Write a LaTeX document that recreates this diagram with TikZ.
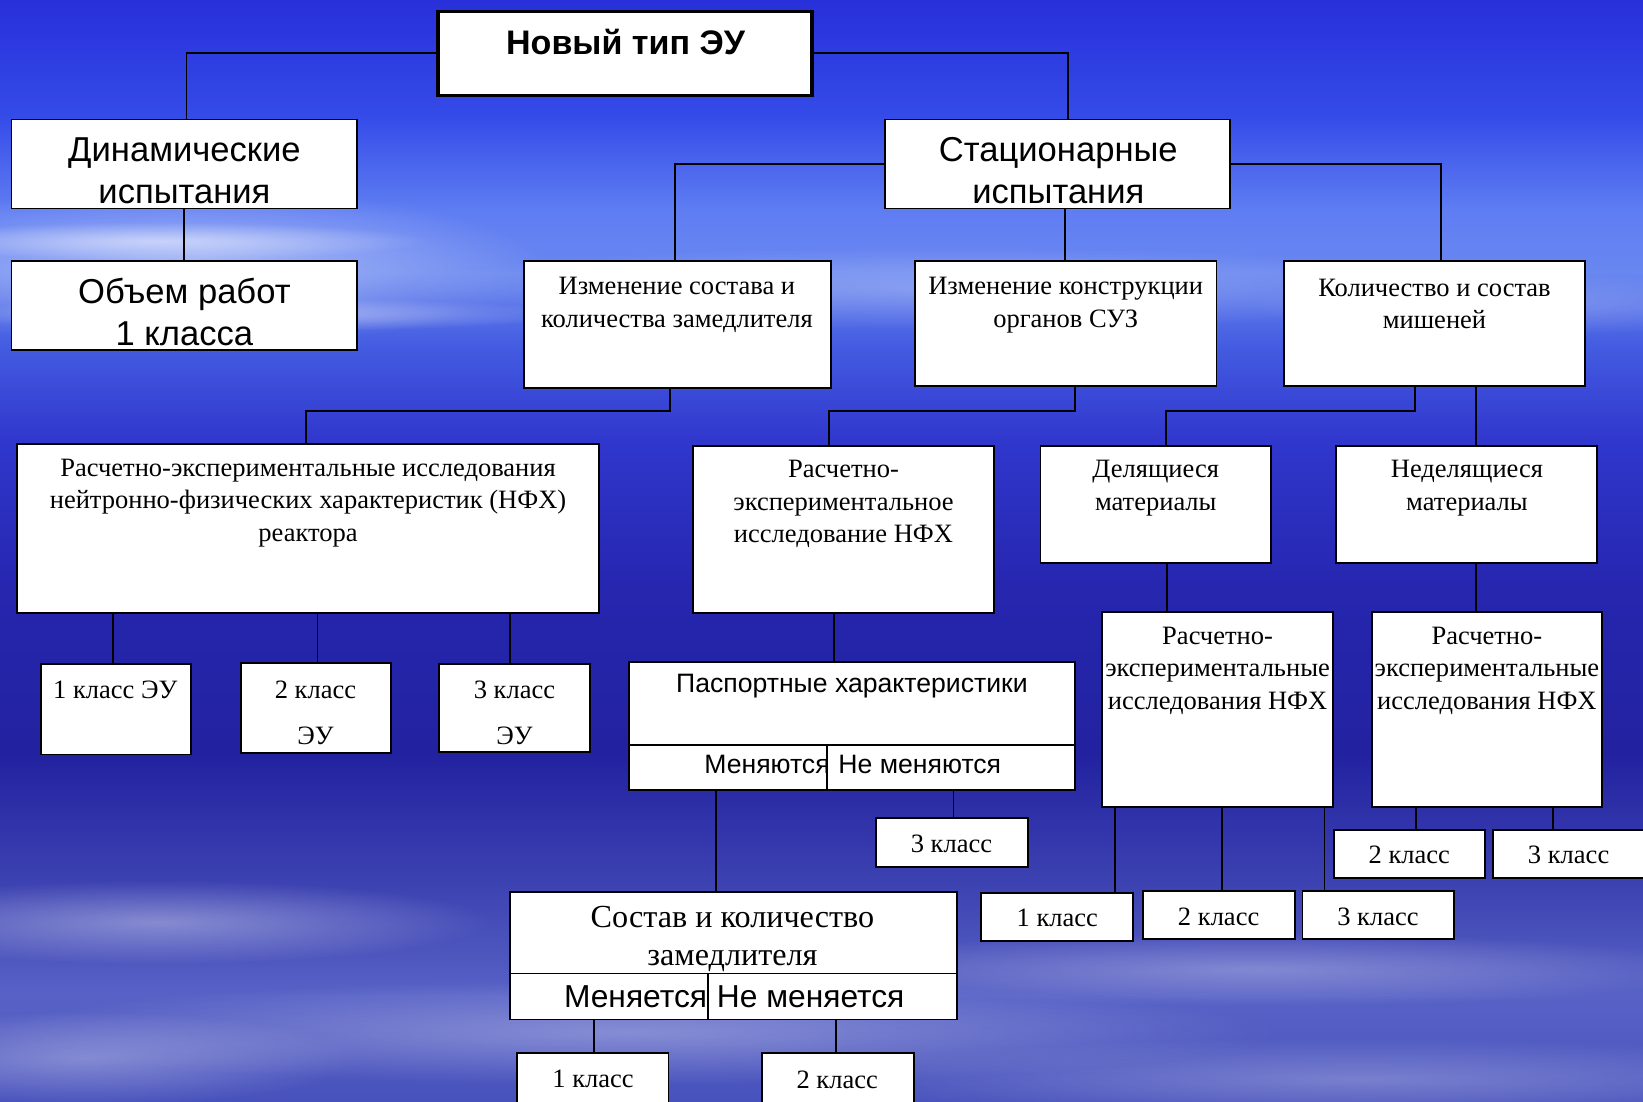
\documentclass[tikz,border=0pt]{standalone}
\usepackage{fontspec}
\setmainfont{Liberation Serif}
\setsansfont{Liberation Sans}
\usetikzlibrary{fadings}
\tikzfading[name=softglow, inner color=transparent!0, outer color=transparent!100]
\definecolor{b0}{RGB}{40,48,218}
\definecolor{b1}{RGB}{52,75,232}
\definecolor{b2}{RGB}{95,125,242}
\definecolor{b3}{RGB}{105,135,240}
\definecolor{b4}{RGB}{68,92,225}
\definecolor{b5}{RGB}{48,55,205}
\definecolor{b6}{RGB}{38,38,175}
\definecolor{b7}{RGB}{34,34,160}
\definecolor{b8}{RGB}{62,68,178}
\definecolor{b9}{RGB}{88,98,198}
\definecolor{b10}{RGB}{72,82,188}
\tikzset{
  box/.style={draw=black, fill=white, line width=1.8pt, inner sep=0pt, outer sep=0pt, anchor=north west},
  conn/.style={draw=black, line width=1.8pt},
  ser/.style={inner sep=0pt, align=center, font=\fontsize{25.3}{31}\selectfont},
  sertall/.style={inner sep=0pt, align=center, font=\fontsize{25.3}{44}\selectfont},
  serL/.style={inner sep=0pt, align=center, font=\fontsize{30.7}{36}\selectfont},
  sanL/.style={inner sep=0pt, align=center, font=\sffamily\fontsize{33}{40}\selectfont},
  sanM/.style={inner sep=0pt, align=center, font=\sffamily\fontsize{25.4}{30}\selectfont},
  sanB/.style={inner sep=0pt, align=center, font=\sffamily\fontsize{30.3}{36}\selectfont},
  topf/.style={inner sep=0pt, align=center, font=\sffamily\bfseries\fontsize{32.5}{38}\selectfont},
  cloud/.style={fill=white, path fading=softglow}
}
\newcommand\bxnode[5]{\node[box, minimum width={#4pt-#2pt}, minimum height={#5pt-#3pt}] (#1) at (#2,#3) {};}
\newcommand\vlink[3]{\coordinate (tmpx) at (#1,0); \draw[conn] (#2.south -| tmpx) -- (#3.north -| tmpx);}
\begin{document}
\begin{tikzpicture}[x=1pt,y=-1pt]
\useasboundingbox (0,0) rectangle (1568,1051);
\clip (0,0) rectangle (1568,1051);
% background
\shade[top color=b0, bottom color=b1] (0,0) rectangle (1568,110);
\shade[top color=b1, bottom color=b2] (0,110) rectangle (1568,200);
\shade[top color=b2, bottom color=b3] (0,200) rectangle (1568,260);
\shade[top color=b3, bottom color=b4] (0,260) rectangle (1568,330);
\shade[top color=b4, bottom color=b5] (0,330) rectangle (1568,420);
\shade[top color=b5, bottom color=b6] (0,420) rectangle (1568,560);
\shade[top color=b6, bottom color=b7] (0,560) rectangle (1568,720);
\shade[top color=b7, bottom color=b8] (0,720) rectangle (1568,850);
\shade[top color=b8, bottom color=b9] (0,850) rectangle (1568,950);
\shade[top color=b9, bottom color=b10] (0,950) rectangle (1568,1051);
\fill[cloud, fill opacity=0.45] (180,255) ellipse (340 and 75);
\fill[cloud, fill opacity=0.5] (150,230) ellipse (260 and 18);
\fill[cloud, fill opacity=0.4] (250,300) ellipse (300 and 16);
\fill[cloud, fill opacity=0.25] (900,275) ellipse (520 and 40);
\fill[cloud, fill opacity=0.22] (1450,290) ellipse (260 and 30);
\fill[cloud, fill opacity=0.35] (150,880) ellipse (320 and 40);
\fill[cloud, fill opacity=0.3] (600,985) ellipse (620 and 50);
\fill[cloud, fill opacity=0.28] (1200,925) ellipse (460 and 35);
\fill[cloud, fill opacity=0.25] (1300,1030) ellipse (520 and 40);
\fill[cloud, fill opacity=0.3] (80,1010) ellipse (260 and 45);
% boxes
\node[box, line width=3.5pt, minimum width=357pt, minimum height=80pt] (top) at (418,11) {};
\bxnode{dyn}{11}{114}{341}{199}
\bxnode{vol}{11}{249}{341}{334}
\bxnode{st}{845}{114}{1174}{199}
\bxnode{iz1}{500}{249}{793}{370}
\bxnode{iz2}{873}{249}{1161}{368}
\bxnode{kol}{1225}{249}{1513}{368}
\bxnode{big}{16}{424}{572}{585}
\bxnode{rei}{661}{426}{949}{585}
\bxnode{del}{993}{426}{1213}{537}
\bxnode{ndel}{1275}{426}{1524}{537}
\bxnode{k1}{39}{634}{182}{720}
\bxnode{k2}{230}{633}{373}{719}
\bxnode{k3}{419}{634}{563}{718}
\bxnode{pas}{600}{632}{1026}{711}
\bxnode{pasL}{600}{711}{789}{754}
\bxnode{pasR}{789}{711}{1026}{754}
\bxnode{p3}{836}{781}{981}{827}
\bxnode{red}{1052}{584}{1272}{770}
\bxnode{rend}{1309}{584}{1529}{770}
\bxnode{d1}{936}{852}{1081}{898}
\bxnode{d2}{1091}{850}{1236}{896}
\bxnode{d3}{1243}{850}{1388}{896}
\bxnode{n2}{1273}{792}{1417}{838}
\bxnode{n3}{1425}{792}{1570}{838}
\bxnode{sos}{487}{851}{913}{929}
\bxnode{sosL}{487}{929}{676}{973}
\bxnode{sosR}{676}{929}{913}{973}
\bxnode{s1}{493}{1005}{638}{1065}
\bxnode{s2}{727}{1005}{872}{1065}
% connectors
\coordinate (xa) at (178,0);
\coordinate (xb) at (1019,0);
\draw[conn] (top.west) -| (dyn.north -| xa);
\draw[conn] (top.east) -| (st.north -| xb);
\vlink{176}{dyn}{vol}
\coordinate (xc) at (644,0);
\coordinate (xd) at (1375,0);
\draw[conn] (st.west) -| (iz1.north -| xc);
\draw[conn] (st.east) -| (kol.north -| xd);
\vlink{1016}{st}{iz2}
\coordinate (xe) at (639,0);
\coordinate (xf) at (292,0);
\draw[conn] (iz1.south -| xe) -- ++(0,22) -| (big.north -| xf);
\coordinate (xg) at (1026,0);
\coordinate (xh) at (791,0);
\draw[conn] (iz2.south -| xg) -- ++(0,24) -| (rei.north -| xh);
\coordinate (xi) at (1350,0);
\coordinate (xj) at (1113,0);
\draw[conn] (kol.south -| xi) -- ++(0,24) -| (del.north -| xj);
\vlink{1409}{kol}{ndel}
\vlink{108}{big}{k1}
\vlink{303}{big}{k2}
\vlink{487}{big}{k3}
\vlink{796}{rei}{pas}
\vlink{683}{pasL}{sos}
\vlink{910}{pasR}{p3}
\vlink{1114}{del}{red}
\vlink{1409}{ndel}{rend}
\vlink{1064}{red}{d1}
\vlink{1166}{red}{d2}
\vlink{1264}{red}{d3}
\vlink{1351}{rend}{n2}
\vlink{1482}{rend}{n3}
\vlink{567}{sosL}{s1}
\vlink{798}{sosR}{s2}
% texts
\node[topf] (t-top) at (597,40) {Новый тип ЭУ};
\node[sanL] (t-dyn) at (176,163) {Динамические\\испытания};
\node[sanL] (t-vol) at (176,298) {Объем работ\\1 класса};
\node[sanL] (t-st) at (1010,163) {Стационарные\\испытания};
\node[ser] (t-iz1) at (646,291) {Изменение состава и\\количества замедлителя};
\node[ser] (t-iz2) at (1017,291) {Изменение конструкции\\органов СУЗ};
\node[ser] (t-kol) at (1369,290) {Количество и состав\\мишеней};
\node[ser] (t-big) at (294,480) {Расчетно-экспериментальные исследования\\нейтронно-физических характеристик (НФХ)\\реактора};
\node[ser] (t-rei) at (805,481) {Расчетно-\\экспериментальное\\исследование НФХ};
\node[ser] (t-del) at (1103,466) {Делящиеся\\материалы};
\node[ser] (t-ndel) at (1400,466) {Неделящиеся\\материалы};
\node[ser] (t-k1) at (110,658) {1 класс ЭУ};
\node[sertall] (t-k2) at (301,680) {2 класс\\ЭУ};
\node[sertall] (t-k3) at (491,680) {3 класс\\ЭУ};
\node[sanM] (t-pas) at (813,655) {Паспортные характеристики};
\node[sanM, anchor=east] (t-pl) at (792,730) {Меняются};
\node[sanM, anchor=west] (t-pr) at (800,730) {Не меняются};
\node[ser] (t-p3) at (908,805) {3 класс};
\node[ser] (t-red) at (1162,640) {Расчетно-\\экспериментальные\\исследования НФХ};
\node[ser] (t-rend) at (1419,640) {Расчетно-\\экспериментальные\\исследования НФХ};
\node[ser] (t-d1) at (1009,876) {1 класс};
\node[ser] (t-d2) at (1163,875) {2 класс};
\node[ser] (t-d3) at (1315,875) {3 класс};
\node[ser] (t-n2) at (1345,816) {2 класс};
\node[ser] (t-n3) at (1497,816) {3 класс};
\node[serL] (t-sos) at (699,896) {Состав и количество\\замедлителя};
\node[sanB, anchor=east] (t-sl) at (675,951) {Меняется};
\node[sanB, anchor=west] (t-sr) at (684,951) {Не меняется};
\node[ser] (t-s1) at (566,1030) {1 класс};
\node[ser] (t-s2) at (799,1031) {2 класс};
\end{tikzpicture}
\end{document}
